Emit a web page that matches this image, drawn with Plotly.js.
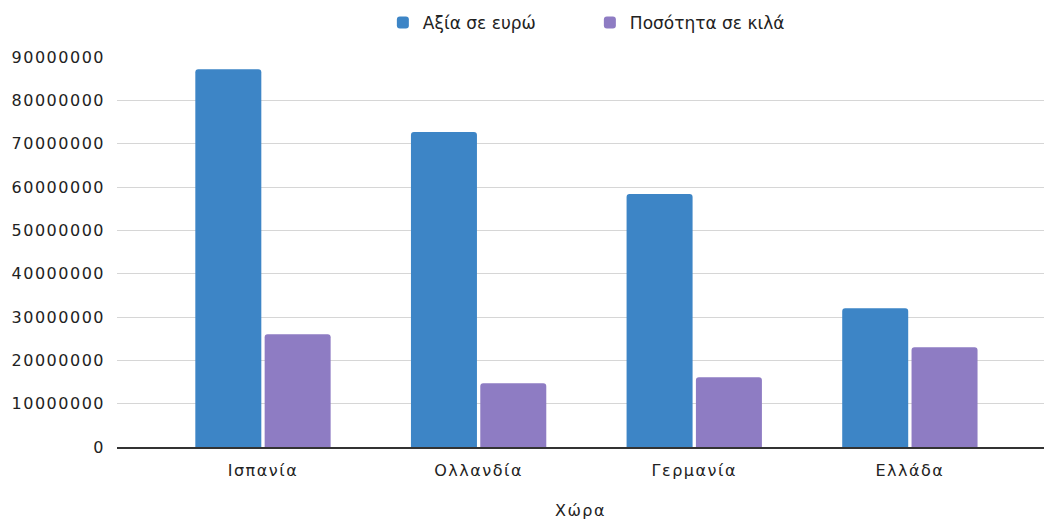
<!DOCTYPE html>
<html>
<head>
<meta charset="utf-8">
<script src="https://cdn.plot.ly/plotly-3.0.1.min.js"></script>
<style>html,body{margin:0;padding:0;background:#fff;}#chart{width:1044px;height:520px;}
#chart .xtick text, #chart .ytick text, #chart .g-xtitle text{letter-spacing:1.5px;}</style>
</head>
<body>
<div id="chart"></div>
<script>
var countries = ["Ισπανία", "Ολλανδία", "Γερμανία", "Ελλάδα"];
var valueEuro = [87200000, 72700000, 58400000, 32000000];
var quantityKg = [26000000, 14700000, 16100000, 23000000];
var seriesNames = ["Αξία σε ευρώ", "Ποσότητα σε κιλά"];
var yTicks = [0, 10000000, 20000000, 30000000, 40000000, 50000000, 60000000, 70000000, 80000000, 90000000];

var fontFam = "DejaVu Sans, Liberation Sans, Arial, sans-serif";
var traces = [
  {type: "bar", name: seriesNames[0], x: countries, y: valueEuro,
   marker: {color: "#3d85c6", cornerradius: 3}, hoverinfo: "x+y"},
  {type: "bar", name: seriesNames[1], x: countries, y: quantityKg,
   marker: {color: "#8e7cc3", cornerradius: 3}, hoverinfo: "x+y"}
];
var layout = {
  width: 1044, height: 520,
  margin: {l: 117, r: 0, t: 57, b: 73},
  paper_bgcolor: "#fff", plot_bgcolor: "#fff",
  font: {family: fontFam, size: 16, color: "#222"},
  barmode: "group", bargap: 0.357, bargroupgap: 0.048,
  showlegend: true,
  legend: {orientation: "h", xref: "container", yref: "container", x: 0.565, y: 0.956,
           xanchor: "center", yanchor: "middle", font: {family: fontFam, size: 17, color: "#222"},
           itemwidth: 30, entrywidth: 162},
  xaxis: {type: "category", range: [-0.677, 3.622], showgrid: false, zeroline: false,
          showline: true, linecolor: "#333", linewidth: 1.5, ticks: "", ticklabelstandoff: 8,
          tickfont: {family: fontFam, size: 16, color: "#222"},
          title: {text: "Χώρα", standoff: 31, font: {family: fontFam, size: 16, color: "#222"}},
          automargin: false},
  yaxis: {range: [0, 90000000], tickmode: "array", tickvals: yTicks, ticktext: yTicks.map(String),
          showgrid: true, gridcolor: "#d6d6d6", gridwidth: 1, zeroline: false, showline: false,
          ticks: "", ticklabelstandoff: 11, tickfont: {family: fontFam, size: 16, color: "#222"},
          automargin: false}
};
Plotly.newPlot("chart", traces, layout, {displayModeBar: false, staticPlot: true});
</script>
</body>
</html>
